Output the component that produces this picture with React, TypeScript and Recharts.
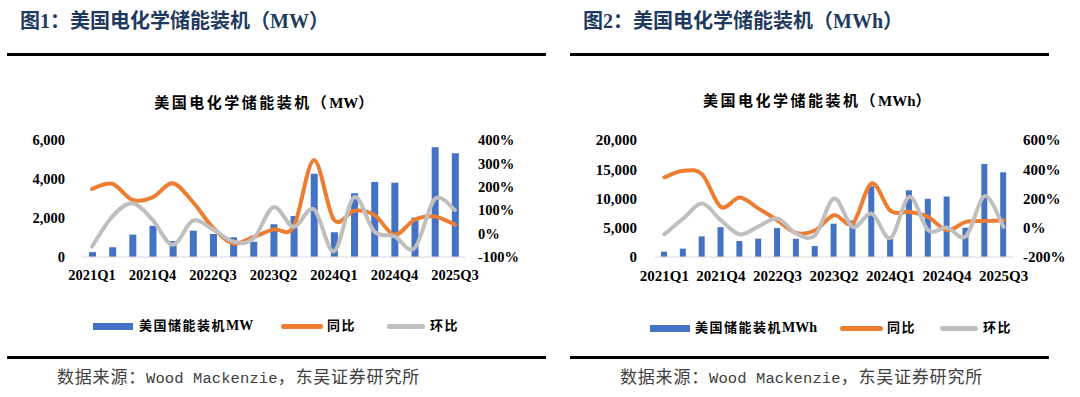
import React from 'react';
import { ComposedChart, Bar, Line, XAxis, YAxis } from 'recharts';

const quarters = [
  '2021Q1', '2021Q2', '2021Q3', '2021Q4',
  '2022Q1', '2022Q2', '2022Q3', '2022Q4',
  '2023Q1', '2023Q2', '2023Q3', '2023Q4',
  '2024Q1', '2024Q2', '2024Q3', '2024Q4',
  '2025Q1', '2025Q2', '2025Q3',
];

// Figure 1 (MW)
const mwInstalled = [250, 500, 1150, 1600, 820, 1350, 1180, 1010, 785, 1680, 2100, 4270, 1270, 3270, 3850, 3810, 2020, 5630, 5320];
const mwYoY = [191, 213, 144, 155, 215, 135, 25, -42, -15, 18, 29, 314, 59, 98, 80, -5, 59, 73, 38];
const mwQoQ = [-55, 73, 130, 59, -48, 55, 18, -34, -22, 113, 29, 104, -76, 155, 9, -12, -62, 148, 101];
const mwLeftTicks = [0, 2000, 4000, 6000];
const mwRightTicks = [-100, 0, 100, 200, 300, 400];

// Figure 2 (MWh)
const mwhInstalled = [920, 1430, 3530, 5110, 2730, 3130, 4940, 3130, 1870, 5690, 6250, 12100, 3130, 11400, 9950, 10340, 5000, 15900, 14480];
const mwhYoY = [345, 389, 365, 142, 207, 131, 51, -36, -17, 86, 30, 303, 115, 108, 74, -17, 40, 47, 51];
const mwhQoQ = [-45, 63, 165, 51, -45, 10, 63, -40, -51, 200, 5, 97, -70, 211, -17, 1, -58, 216, 5];
const mwhLeftTicks = [0, 5000, 10000, 15000, 20000];
const mwhRightTicks = [-200, 0, 200, 400, 600];

const BLUE = '#4472C4';
const ORANGE = '#ED7D31';
const GRAY = '#BFBFBF';

// Excel-like smoothed line (Catmull-Rom through the points)
function smoothCurve(context: any) {
  let pts: number[][] = [];
  return {
    areaStart() {},
    areaEnd() {},
    lineStart() {
      pts = [];
    },
    point(x: number, y: number) {
      pts.push([+x, +y]);
    },
    lineEnd() {
      const n = pts.length;
      if (!n) return;
      context.moveTo(pts[0][0], pts[0][1]);
      for (let i = 0; i < n - 1; i++) {
        const p0 = pts[i - 1] || pts[i];
        const p1 = pts[i];
        const p2 = pts[i + 1];
        const p3 = pts[i + 2] || p2;
        context.bezierCurveTo(
          p1[0] + (p2[0] - p0[0]) / 6,
          p1[1] + (p2[1] - p0[1]) / 6,
          p2[0] - (p3[0] - p1[0]) / 6,
          p2[1] - (p3[1] - p1[1]) / 6,
          p2[0],
          p2[1]
        );
      }
    },
  };
}

const fmtNum = (v: number) => v.toLocaleString('en-US');
const fmtPct = (v: number) => `${v}%`;

type PanelProps = {
  installed: number[];
  yoy: number[];
  qoq: number[];
  leftTicks: number[];
  rightTicks: number[];
  leftWidth: number;
  rightWidth: number;
  leftGap: number;
  rightGap: number;
  barSize: number;
  fontSize: number;
};

function Panel(p: PanelProps) {
  const data = quarters.map((q, i) => ({ q, v: p.installed[i], yoy: p.yoy[i], qoq: p.qoq[i] }));
  const tickStyle = { fill: '#000', fontSize: p.fontSize, fontWeight: 700, fontFamily: '"Liberation Serif", serif' };
  return (
    <ComposedChart width={540} height={300} data={data} margin={{ top: 140, right: 0, bottom: 0, left: 0 }}>
      <XAxis
        dataKey="q"
        interval={2}
        tickLine={false}
        tickSize={0}
        tickMargin={13}
        height={43}
        axisLine={{ stroke: '#D9D9D9', strokeWidth: 1 }}
        tick={tickStyle}
      />
      <YAxis
        yAxisId="left"
        orientation="left"
        width={p.leftWidth}
        domain={[p.leftTicks[0], p.leftTicks[p.leftTicks.length - 1]]}
        ticks={p.leftTicks}
        tickFormatter={fmtNum}
        axisLine={false}
        tickLine={false}
        tickSize={0}
        tickMargin={p.leftGap}
        tick={tickStyle}
      />
      <YAxis
        yAxisId="right"
        orientation="right"
        width={p.rightWidth}
        domain={[p.rightTicks[0], p.rightTicks[p.rightTicks.length - 1]]}
        ticks={p.rightTicks}
        tickFormatter={fmtPct}
        axisLine={false}
        tickLine={false}
        tickSize={0}
        tickMargin={p.rightGap}
        tick={tickStyle}
      />
      <Bar yAxisId="left" dataKey="v" fill={BLUE} barSize={p.barSize} isAnimationActive={false} />
      <Line
        yAxisId="right"
        dataKey="yoy"
        type={smoothCurve as any}
        stroke={ORANGE}
        strokeWidth={4}
        strokeLinecap="round"
        dot={false}
        activeDot={false}
        isAnimationActive={false}
      />
      <Line
        yAxisId="right"
        dataKey="qoq"
        type={smoothCurve as any}
        stroke={GRAY}
        strokeWidth={4}
        strokeLinecap="round"
        dot={false}
        activeDot={false}
        isAnimationActive={false}
      />
    </ComposedChart>
  );
}

const CJK = '"Liberation Serif", "Noto Sans CJK SC", serif';

function abs(left: number, top: number, extra: React.CSSProperties = {}): React.CSSProperties {
  return { position: 'absolute', left, top, ...extra };
}

const tight: React.CSSProperties = { letterSpacing: 0 };

type LegendItem = { x1: number; x2: number; tx: number; cjk: string; latin?: string; color: string; kind: 'bar' | 'line' };

function LegendRow({ y, items }: { y: number; items: LegendItem[] }) {
  return (
    <>
      {items.map((it) => (
        <React.Fragment key={it.cjk + (it.latin || '')}>
          <div
            style={abs(it.x1, it.kind === 'bar' ? y - 3.5 : y - 2.5, {
              width: it.x2 - it.x1,
              height: it.kind === 'bar' ? 7 : 5,
              background: it.color,
              borderRadius: it.kind === 'bar' ? 0 : 3,
            })}
          />
          <div
            style={abs(it.tx, y - 8, {
              fontFamily: CJK,
              fontWeight: 700,
              fontSize: 13,
              lineHeight: '16px',
              letterSpacing: 1.5,
              color: '#000',
              whiteSpace: 'nowrap',
            })}
          >
            {it.cjk}
            {it.latin ? <span style={{ ...tight, fontSize: 14 }}>{it.latin}</span> : null}
          </div>
        </React.Fragment>
      ))}
    </>
  );
}

function Source({ left }: { left: number }) {
  const cjk: React.CSSProperties = { fontFamily: '"Noto Sans CJK SC", sans-serif', fontSize: 17, letterSpacing: 0.8 };
  const mono: React.CSSProperties = { fontFamily: '"Liberation Mono", monospace', fontSize: 15.5, letterSpacing: 0.1 };
  return (
    <div style={abs(left, 366, { color: '#404040', lineHeight: '20px', whiteSpace: 'nowrap' })}>
      <span style={cjk}>数据来源：</span>
      <span style={mono}>Wood Mackenzie</span>
      <span style={cjk}>，东吴证券研究所</span>
    </div>
  );
}

export default function App() {
  const figTitle: React.CSSProperties = {
    fontFamily: CJK,
    fontWeight: 700,
    fontSize: 20,
    lineHeight: '20px',
    color: '#1F3A5F',
    whiteSpace: 'nowrap',
  };
  const chartTitle: React.CSSProperties = {
    fontFamily: CJK,
    fontWeight: 700,
    fontSize: 15,
    lineHeight: '16px',
    letterSpacing: 2.5,
    color: '#000',
    textAlign: 'center',
    whiteSpace: 'nowrap',
  };
  const rule = (left: number, width: number, top: number): React.CSSProperties =>
    abs(left, top, { width, height: 2.5, background: '#000' });

  return (
    <div style={{ position: 'absolute', left: 0, top: 0, width: 1080, height: 397, background: '#fff', overflow: 'hidden' }}>
      <div style={abs(20, 11, figTitle)}>图1：美国电化学储能装机（MW）</div>
      <div style={abs(583, 11, figTitle)}>图2：美国电化学储能装机（MWh）</div>
      <div style={rule(7, 539, 53)} />
      <div style={rule(570, 479, 53)} />

      <div style={abs(0, 95, { ...chartTitle, width: 530 })}>
        美国电化学储能装机（<span style={tight}>MW</span>）
      </div>
      <div style={abs(588, 93, { ...chartTitle, width: 460 })}>
        美国电化学储能装机（<span style={tight}>MWh</span>）
      </div>

      <div style={abs(0, 0)}>
        <Panel
          installed={mwInstalled}
          yoy={mwYoY}
          qoq={mwQoQ}
          leftTicks={mwLeftTicks}
          rightTicks={mwRightTicks}
          leftWidth={82}
          rightWidth={75}
          leftGap={17}
          rightGap={13}
          barSize={7}
          fontSize={14.5}
        />
      </div>
      <div style={abs(540, 0)}>
        <Panel
          installed={mwhInstalled}
          yoy={mwhYoY}
          qoq={mwhQoQ}
          leftTicks={mwhLeftTicks}
          rightTicks={mwhRightTicks}
          leftWidth={115}
          rightWidth={67}
          leftGap={18}
          rightGap={10}
          barSize={6}
          fontSize={15}
        />
      </div>

      <LegendRow
        y={326}
        items={[
          { x1: 93, x2: 133, tx: 139, cjk: '美国储能装机', latin: 'MW', color: BLUE, kind: 'bar' },
          { x1: 281, x2: 323, tx: 327, cjk: '同比', color: ORANGE, kind: 'line' },
          { x1: 387, x2: 425, tx: 430, cjk: '环比', color: GRAY, kind: 'line' },
        ]}
      />
      <LegendRow
        y={328}
        items={[
          { x1: 650, x2: 690, tx: 695, cjk: '美国储能装机', latin: 'MWh', color: BLUE, kind: 'bar' },
          { x1: 840, x2: 883, tx: 887, cjk: '同比', color: ORANGE, kind: 'line' },
          { x1: 940, x2: 978, tx: 983, cjk: '环比', color: GRAY, kind: 'line' },
        ]}
      />

      <div style={rule(7, 539, 356)} />
      <div style={rule(570, 479, 356)} />

      <Source left={57} />
      <Source left={620} />
    </div>
  );
}
